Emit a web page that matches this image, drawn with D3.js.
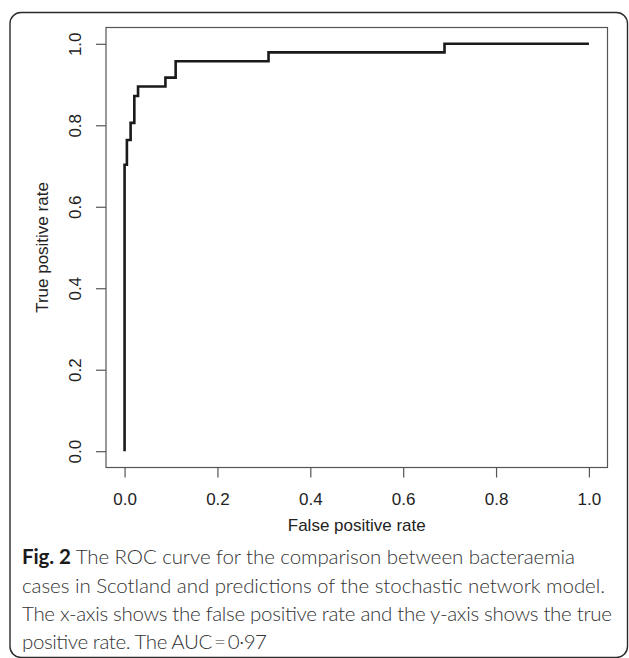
<!DOCTYPE html>
<html>
<head>
<meta charset="utf-8">
<script src="https://cdn.jsdelivr.net/npm/d3@7"></script>
<style>
  html, body { margin: 0; padding: 0; background: #fff; }
  svg { display: block; }
</style>
</head>
<body>
<svg id="chart" width="629" height="658"></svg>
<script>
// ROC curve corner points (false positive rate, true positive rate)
const fpr = [0, 0, 0.005, 0.013, 0.021, 0.029, 0.088, 0.110, 0.310, 0.689, 1.0];
const tpr = [0, 0.703, 0.764, 0.806, 0.872, 0.895, 0.917, 0.957, 0.979, 1.0, 1.0];
const xTicks = [0, 0.2, 0.4, 0.6, 0.8, 1.0];
const yTicks = [0, 0.2, 0.4, 0.6, 0.8, 1.0];
const xLabel = "False positive rate";
const yLabel = "True positive rate";
const captionBold = "Fig. 2";
const captionLines = [
  " The ROC curve for the comparison between bacteraemia",
  "cases in Scotland and predictions of the stochastic network model.",
  "The x-axis shows the false positive rate and the y-axis shows the true",
  "positive rate. The AUC\u2009=\u20090\u00b797"
];
const captionWidths = [553, 583, 590, 245];

const svg = d3.select("#chart");
const box = {left: 106, right: 607.5, top: 27.5, bottom: 467.5};

// outer rounded frame
svg.append("rect")
  .attr("x", 10).attr("y", 12.5).attr("width", 617.5).attr("height", 645)
  .attr("rx", 11).attr("ry", 11)
  .attr("fill", "none").attr("stroke", "#2a2a2a").attr("stroke-width", 1.4);

const x = d3.scaleLinear().domain([-0.04, 1.04]).range([box.left, box.right]);
const y = d3.scaleLinear().domain([-0.04, 1.04]).range([box.bottom, box.top]);

const axisFont = "'Liberation Sans', Arial, sans-serif";

// x axis
const gx = svg.append("g").attr("transform", `translate(0,${box.bottom})`)
  .call(d3.axisBottom(x).tickValues(xTicks).tickSize(10).tickPadding(15)
        .tickFormat(d3.format(".1f")));
gx.select(".domain").remove();
gx.selectAll(".tick line").attr("stroke", "#555").attr("stroke-width", 1.2);
gx.selectAll(".tick text").attr("font-family", axisFont).attr("font-size", 17)
  .attr("fill", "#222");

// y axis with rotated labels
const gy = svg.append("g").attr("transform", `translate(${box.left},0)`)
  .call(d3.axisLeft(y).tickValues(yTicks).tickSize(10)
        .tickFormat(d3.format(".1f")));
gy.select(".domain").remove();
gy.selectAll(".tick line").attr("stroke", "#555").attr("stroke-width", 1.2);
gy.selectAll(".tick text")
  .attr("font-family", axisFont).attr("font-size", 17).attr("fill", "#222")
  .attr("x", null).attr("dy", null)
  .attr("text-anchor", "middle")
  .attr("transform", "translate(-25,0) rotate(-90)");

// plot box
svg.append("rect")
  .attr("x", box.left).attr("y", box.top)
  .attr("width", box.right - box.left).attr("height", box.bottom - box.top)
  .attr("fill", "none").attr("stroke", "#555").attr("stroke-width", 1.2);

// ROC curve
const pts = fpr.map((f, i) => [f, tpr[i]]);
svg.append("path")
  .datum(pts)
  .attr("d", d3.line().x(d => x(d[0])).y(d => y(d[1])).curve(d3.curveStepAfter))
  .attr("fill", "none").attr("stroke", "#1a1a1a").attr("stroke-width", 2.6);

// axis titles
svg.append("text")
  .attr("x", (x(0) + x(1)) / 2).attr("y", 531)
  .attr("text-anchor", "middle")
  .attr("font-family", axisFont).attr("font-size", 17).attr("fill", "#222")
  .text(xLabel);
svg.append("text")
  .attr("transform", `translate(48,${(y(0) + y(1)) / 2}) rotate(-90)`)
  .attr("text-anchor", "middle")
  .attr("font-family", axisFont).attr("font-size", 17).attr("fill", "#222")
  .text(yLabel);

// caption
const capFont = "Lato, 'Open Sans', sans-serif";
const cap = svg.append("g").attr("font-family", capFont).attr("font-size", 20.5)
  .attr("font-weight", 300).attr("fill", "#333");
const baselines = [564, 593, 621, 649];
captionLines.forEach((line, i) => {
  const t = cap.append("text").attr("x", 22).attr("y", baselines[i])
    .attr("textLength", captionWidths[i]).attr("lengthAdjust", "spacing");
  if (i === 0) {
    t.append("tspan").attr("font-weight", "bold").attr("fill", "#1a1a1a").text(captionBold);
  }
  t.append("tspan").text(line);
});
</script>
</body>
</html>
